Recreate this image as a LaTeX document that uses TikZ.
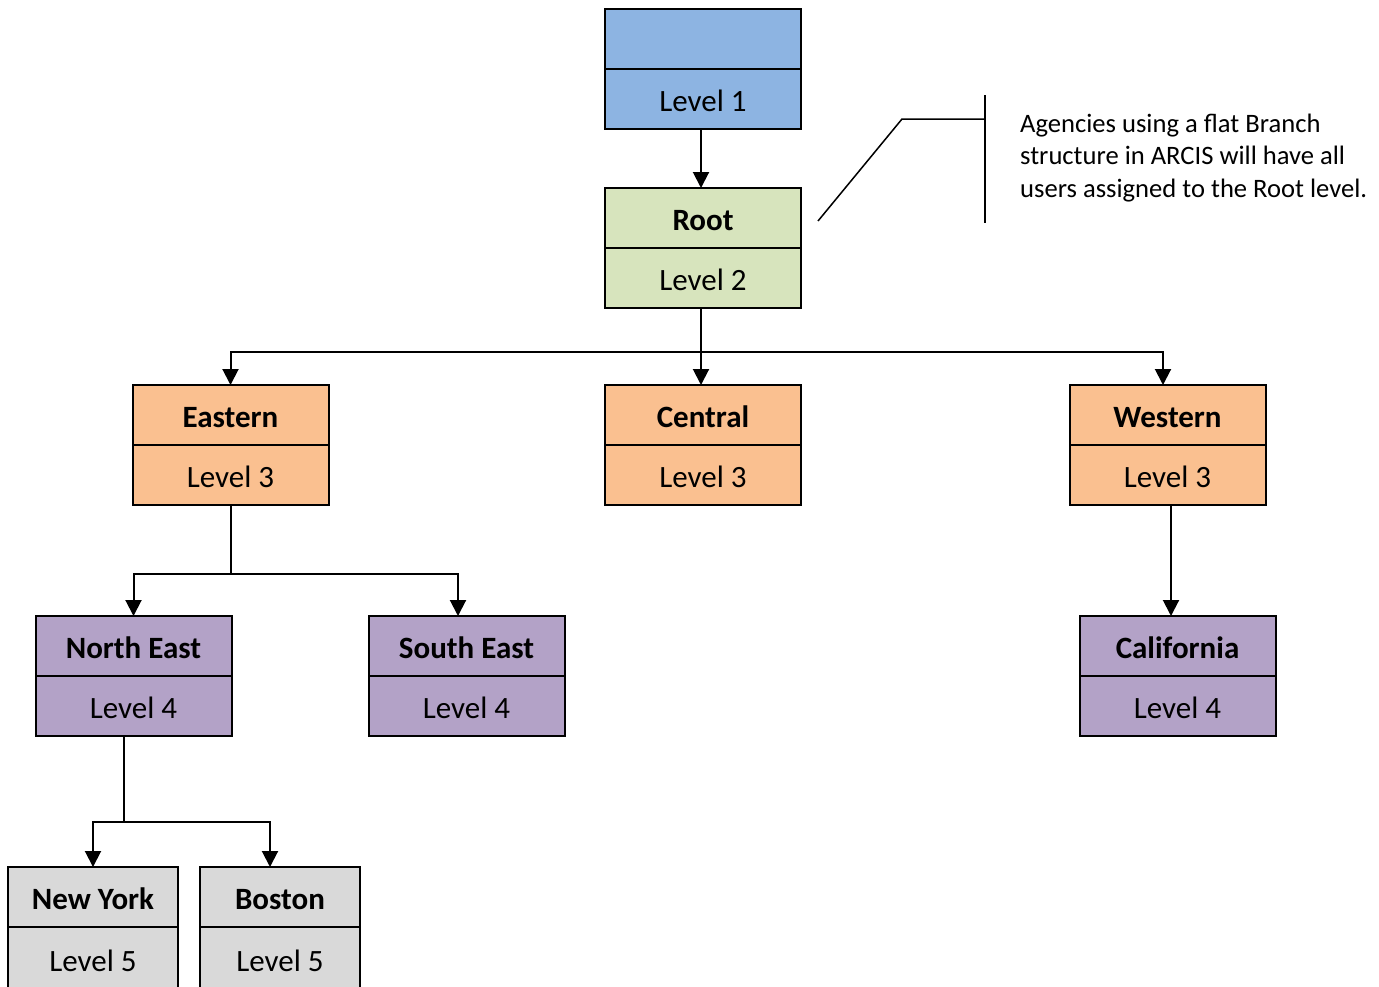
\documentclass[tikz,border=0pt]{standalone}
\usepackage{fontspec}
\setmainfont{Carlito}
\usetikzlibrary{arrows.meta,calc}
\definecolor{boxblue}{HTML}{8DB4E2}
\definecolor{boxgreen}{HTML}{D7E4BD}
\definecolor{boxorange}{HTML}{FAC090}
\definecolor{boxpurple}{HTML}{B3A2C7}
\definecolor{boxgray}{HTML}{D9D9D9}
\tikzset{
  part/.style={draw,line width=2pt,inner sep=0pt,outer sep=0pt,minimum height=60pt,
    text height=24pt,text depth=0pt,font=\fontsize{31}{37}\selectfont},
  head/.style={part,font=\fontsize{31}{37}\selectfont\bfseries},
  arr/.style={line width=2pt,-{Triangle[length=16pt,width=16pt]}},
  lin/.style={line width=2pt},
  note/.style={line width=1.5pt}
}
\begin{document}
\begin{tikzpicture}[x=1pt,y=-1pt]
\useasboundingbox (0,0) rectangle (1379,986);
% level 1 and root
\draw (703,39) node[head,fill=boxblue,minimum width=196pt] (top) {};
\draw (703,99) node[part,fill=boxblue,minimum width=196pt] (topL) {Level 1};
\draw (703,218) node[head,fill=boxgreen,minimum width=196pt] (root) {Root};
\draw (703,278) node[part,fill=boxgreen,minimum width=196pt] (rootL) {Level 2};
% level 3
\draw (230.5,415) node[head,fill=boxorange,minimum width=196pt] (east) {Eastern};
\draw (230.5,475) node[part,fill=boxorange,minimum width=196pt] (eastL) {Level 3};
\draw (703,415) node[head,fill=boxorange,minimum width=196pt] (cent) {Central};
\draw (703,475) node[part,fill=boxorange,minimum width=196pt] (centL) {Level 3};
\draw (1167.5,415) node[head,fill=boxorange,minimum width=196pt] (west) {Western};
\draw (1167.5,475) node[part,fill=boxorange,minimum width=196pt] (westL) {Level 3};
% level 4
\draw (133.5,646) node[head,fill=boxpurple,minimum width=196pt] (ne) {North East};
\draw (133.5,706) node[part,fill=boxpurple,minimum width=196pt] (neL) {Level 4};
\draw (466.5,646) node[head,fill=boxpurple,minimum width=196pt] (se) {South East};
\draw (466.5,706) node[part,fill=boxpurple,minimum width=196pt] (seL) {Level 4};
\draw (1177.5,646) node[head,fill=boxpurple,minimum width=196pt] (cal) {California};
\draw (1177.5,706) node[part,fill=boxpurple,minimum width=196pt] (calL) {Level 4};
% level 5 (runs off the page)
\draw (93,897) node[head,fill=boxgray,minimum width=170pt] (ny) {New York};
\draw (93,959) node[part,fill=boxgray,minimum width=170pt,minimum height=64pt] (nyL) {Level 5};
\draw (280,897) node[head,fill=boxgray,minimum width=160pt] (bos) {Boston};
\draw (280,959) node[part,fill=boxgray,minimum width=160pt,minimum height=64pt] (bosL) {Level 5};

% connectors
\draw[arr] ([xshift=-2pt]topL.south) -- ([xshift=-2pt]root.north);
\coordinate (j1) at (701,352);
\draw[lin] (j1 |- rootL.south) -- (j1);
\draw[arr] (j1) -| (east.north);
\draw[arr] (j1) -- (j1 |- cent.north);
\draw[arr] (j1) -| ([xshift=-4.5pt]west.north);
\coordinate (j2) at (231,574);
\draw[lin] (j2 |- eastL.south) -- (j2);
\draw[arr] (j2) -| (ne.north);
\draw[arr] (j2) -| ([xshift=-8.5pt]se.north);
\draw[arr] ([xshift=3.5pt]westL.south) -- ([xshift=-6.5pt]cal.north);
\coordinate (j3) at (124,822);
\draw[lin] (j3 |- neL.south) -- (j3);
\draw[arr] (j3) -| (ny.north);
\draw[arr] (j3) -| ([xshift=-10pt]bos.north);

% callout
\draw (1020,158) node[anchor=west,align=left,inner sep=0pt,
  font=\fontsize{26.6}{32.5}\selectfont] (txt)
  {Agencies using a flat Branch\\structure in ARCIS will have all\\users assigned to the Root level.};
\coordinate (c1) at (818,221);
\coordinate (c2) at (902,119);
\coordinate (c3) at (985,119);
\coordinate (c4) at (985,95);
\coordinate (c5) at (985,223);
\draw[note] (c1) -- (c2) -- (c3);
\draw[note] (c4) -- (c5);
\end{tikzpicture}
\end{document}
